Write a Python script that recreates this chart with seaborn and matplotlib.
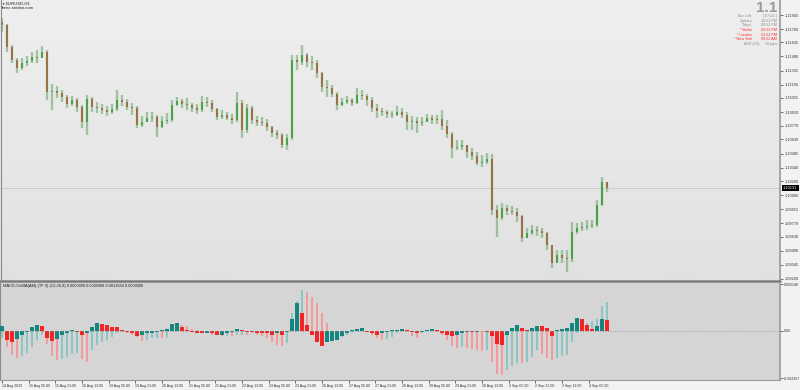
import numpy as np
import pandas as pd
import matplotlib
matplotlib.use("Agg")
import matplotlib.pyplot as plt
import matplotlib.transforms as mtransforms
from matplotlib.lines import Line2D
from matplotlib.colors import LinearSegmentedColormap
import seaborn as sns

# ---------------- data (3-hour bars, EURUSD) ----------------
first_open = 1.11833
closes = [1.11803, 1.11577, 1.11444, 1.11362, 1.11413, 1.11434, 1.11475, 1.11464, 1.11526, 1.11116,
          1.11126, 1.11106, 1.11065, 1.10993, 1.11034, 1.10962, 1.10808, 1.11044, 1.10962, 1.10952,
          1.10931, 1.10911, 1.10942, 1.11034, 1.11013, 1.10962, 1.10952, 1.10778, 1.10808, 1.10849,
          1.10860, 1.10757, 1.10819, 1.10829, 1.10983, 1.11024, 1.10993, 1.10983, 1.10952, 1.10931,
          1.11013, 1.11003, 1.10942, 1.10860, 1.10880, 1.10849, 1.10829, 1.11003, 1.10726, 1.10952,
          1.10829, 1.10808, 1.10798, 1.10757, 1.10696, 1.10675, 1.10573, 1.10644, 1.11444, 1.11423,
          1.11495, 1.11423, 1.11413, 1.11311, 1.11167, 1.11157, 1.11095, 1.10983, 1.11013, 1.11034,
          1.11003, 1.11085, 1.11075, 1.11034, 1.10952, 1.10921, 1.10911, 1.10890, 1.10880, 1.10911,
          1.10880, 1.10808, 1.10819, 1.10798, 1.10808, 1.10849, 1.10829, 1.10839, 1.10767, 1.10685,
          1.10542, 1.10552, 1.10573, 1.10501, 1.10460, 1.10388, 1.10399, 1.10429, 1.09906, 1.09824,
          1.09927, 1.09896, 1.09886, 1.09845, 1.09619, 1.09671, 1.09701, 1.09691, 1.09671, 1.09548,
          1.09363, 1.09445, 1.09414, 1.09404, 1.09681, 1.09722, 1.09732, 1.09742, 1.09753, 1.09958,
          1.10193, 1.10131]
highs = [1.11874, 1.11813, 1.11598, 1.11464, 1.11464, 1.11485, 1.11526, 1.11546, 1.11587, 1.11546,
         1.11198, 1.11177, 1.11136, 1.11085, 1.11075, 1.11054, 1.10983, 1.11085, 1.11065, 1.11013,
         1.10993, 1.10972, 1.10993, 1.11136, 1.11085, 1.11044, 1.11003, 1.10972, 1.10870, 1.10911,
         1.10911, 1.10880, 1.10870, 1.10901, 1.11034, 1.11065, 1.11044, 1.11054, 1.11003, 1.10993,
         1.11075, 1.11065, 1.11034, 1.10952, 1.10931, 1.10911, 1.10890, 1.11116, 1.11034, 1.10993,
         1.10972, 1.10870, 1.10860, 1.10839, 1.10767, 1.10726, 1.10696, 1.10685, 1.11495, 1.11495,
         1.11598, 1.11516, 1.11485, 1.11444, 1.11321, 1.11239, 1.11188, 1.11116, 1.11054, 1.11075,
         1.11054, 1.11157, 1.11136, 1.11095, 1.11065, 1.10993, 1.10952, 1.10931, 1.10921, 1.10972,
         1.10952, 1.10911, 1.10870, 1.10860, 1.10860, 1.10890, 1.10880, 1.10880, 1.10931, 1.10829,
         1.10706, 1.10624, 1.10624, 1.10573, 1.10542, 1.10501, 1.10470, 1.10491, 1.10480, 1.09958,
         1.09978, 1.09958, 1.09947, 1.09927, 1.09855, 1.09722, 1.09753, 1.09742, 1.09722, 1.09681,
         1.09548, 1.09496, 1.09496, 1.09496, 1.09783, 1.09773, 1.09783, 1.09804, 1.09804, 1.10009,
         1.10245, 1.10193]
lows = [1.11731, 1.11526, 1.11413, 1.11311, 1.11341, 1.11382, 1.11413, 1.11413, 1.11464, 1.11034,
        1.10931, 1.11054, 1.11013, 1.10952, 1.10972, 1.10911, 1.10747, 1.10675, 1.10911, 1.10901,
        1.10890, 1.10870, 1.10890, 1.10921, 1.10972, 1.10931, 1.10880, 1.10747, 1.10757, 1.10808,
        1.10808, 1.10655, 1.10747, 1.10788, 1.10808, 1.10972, 1.10952, 1.10931, 1.10911, 1.10890,
        1.10911, 1.10962, 1.10911, 1.10829, 1.10839, 1.10829, 1.10788, 1.10808, 1.10644, 1.10696,
        1.10788, 1.10767, 1.10767, 1.10716, 1.10655, 1.10634, 1.10542, 1.10521, 1.10624, 1.11341,
        1.11393, 1.11372, 1.11341, 1.11259, 1.11116, 1.11065, 1.11065, 1.10931, 1.10972, 1.10993,
        1.10972, 1.10993, 1.11034, 1.10972, 1.10911, 1.10849, 1.10870, 1.10849, 1.10849, 1.10870,
        1.10849, 1.10726, 1.10726, 1.10696, 1.10767, 1.10808, 1.10788, 1.10788, 1.10726, 1.10644,
        1.10439, 1.10521, 1.10521, 1.10439, 1.10419, 1.10368, 1.10347, 1.10378, 1.09855, 1.09630,
        1.09804, 1.09855, 1.09855, 1.09783, 1.09579, 1.09619, 1.09650, 1.09640, 1.09619, 1.09496,
        1.09312, 1.09373, 1.09363, 1.09271, 1.09373, 1.09660, 1.09691, 1.09701, 1.09722, 1.09732,
        1.09947, 1.10091]
macd = [-0.00036, -0.00076, -0.00112, -0.00126, -0.00117, -0.00103, -0.00076, -0.00045, -0.00018, -0.00063,
        -0.00117, -0.00135, -0.00130, -0.00121, -0.00108, -0.00103, -0.00130, -0.00144, -0.00090, -0.00067,
        -0.00054, -0.00045, -0.00031, -0.00013, -0.00005, -0.00009, -0.00018, -0.00031, -0.00049, -0.00045,
        -0.00036, -0.00035, -0.00036, -0.00031, 0.00022, 0.00036, 0.00027, 0.00022, 0.00009, 0.00004,
        -0.00009, -0.00013, -0.00018, -0.00022, -0.00027, -0.00026, -0.00027, -0.00022, -0.00018, -0.00019,
        -0.00013, -0.00022, -0.00027, -0.00036, -0.00054, -0.00067, -0.00072, -0.00058, 0.00081, 0.00135,
        0.00189, 0.00180, 0.00157, 0.00126, 0.00081, 0.00036, -0.00004, -0.00036, -0.00031, -0.00022,
        -0.00009, 0.00009, 0.00008, -0.00004, -0.00022, -0.00036, -0.00045, -0.00040, -0.00031, -0.00013,
        0.00004, -0.00004, -0.00027, -0.00036, -0.00013, 0.00004, 0.00009, -0.00004, -0.00022, -0.00045,
        -0.00072, -0.00081, -0.00076, -0.00080, -0.00085, -0.00090, -0.00094, -0.00090, -0.00144, -0.00202,
        -0.00207, -0.00180, -0.00162, -0.00148, -0.00149, -0.00147, -0.00121, -0.00090, -0.00108, -0.00126,
        -0.00135, -0.00126, -0.00117, -0.00112, -0.00054, -0.00013, 0.00022, 0.00036, 0.00045, 0.00054,
        0.00115, 0.00130]
osma = [0.00022, -0.00045, -0.00054, -0.00040, -0.00022, -0.00004, 0.00018, 0.00027, 0.00022, -0.00036,
        -0.00049, -0.00040, -0.00022, -0.00009, 0.00004, -0.00004, -0.00018, -0.00013, 0.00018, 0.00036,
        0.00031, 0.00027, 0.00018, 0.00017, 0.00004, -0.00004, -0.00013, -0.00027, -0.00022, -0.00013,
        -0.00009, -0.00004, 0.00004, 0.00009, 0.00031, 0.00036, 0.00018, 0.00004, -0.00004, -0.00009,
        -0.00013, -0.00009, -0.00010, -0.00022, -0.00018, -0.00009, -0.00004, 0.00009, 0.00004, -0.00004,
        -0.00005, -0.00009, -0.00010, -0.00013, -0.00018, -0.00013, -0.00018, -0.00004, 0.00054, 0.00126,
        0.00081, 0.00027, -0.00018, -0.00054, -0.00072, -0.00054, -0.00049, -0.00045, -0.00027, -0.00009,
        0.00004, 0.00009, 0.00013, -0.00004, -0.00009, -0.00018, -0.00013, -0.00004, 0.00004, 0.00005,
        0.00009, 0.00004, -0.00004, -0.00009, -0.00004, 0.00004, 0.00009, 0.00004, -0.00009, -0.00018,
        -0.00027, -0.00022, -0.00013, -0.00004, -0.00005, -0.00004, -0.00003, -0.00004, -0.00027, -0.00063,
        -0.00067, -0.00022, 0.00013, 0.00027, 0.00013, 0.00004, 0.00013, 0.00022, 0.00021, 0.00013,
        -0.00027, 0.00004, 0.00009, 0.00013, 0.00036, 0.00058, 0.00054, 0.00027, 0.00009, 0.00022,
        0.00054, 0.00050]

time_labels = ["14 Aug 2019", "15 Aug 05:00", "15 Aug 21:00", "16 Aug 13:00", "19 Aug 05:00",
               "19 Aug 21:00", "20 Aug 13:00", "21 Aug 05:00", "21 Aug 21:00", "22 Aug 13:00",
               "23 Aug 05:00", "23 Aug 21:00", "26 Aug 13:00", "27 Aug 05:00", "27 Aug 21:00",
               "28 Aug 13:00", "29 Aug 05:00", "29 Aug 21:00", "30 Aug 13:00", "2 Sep 05:00",
               "2 Sep 21:00", "3 Sep 13:00", "4 Sep 05:00"]
price_ticks = [1.11905, 1.11760, 1.11625, 1.11480, 1.11335, 1.11190, 1.11055, 1.10910, 1.10770,
               1.10630, 1.10485, 1.10340, 1.10200, 1.10060, 1.09915, 1.09770, 1.09630, 1.09490,
               1.09345, 1.09200]
macd_ticks = [0.002148, 0.0, -0.002207]
macd_tick_labels = ["0.002148", "0.00", "-0.002207"]
current_price = 1.10131
indicator_title = "MACD-OsMA(AM) (TF 0) (12,26,9) 0.0000000 0.0005008 0.0011084 0.0000000"
info_labels = ["Bar Left:", "Sydney", "Tokyo", "* Berlin", "* London", "* New York"]
info_values = ["[ 07:22 ]", "10:52 PM", "09:52 PM", "02:52 PM", "01:52 PM", "08:52 AM"]
info_red = [False, False, False, True, True, True]
atr_label, atr_value = "ATR (20):", "16 pips"

# ---------------- frame ----------------
n = len(closes)
hours = np.arange(n) * 3.0          # 3 hourly bars per candle
opens = [first_open] + closes[:-1]
tick_hours = np.arange(len(time_labels)) * 16.0

df = pd.DataFrame({"hour": hours, "open": opens, "high": highs, "low": lows,
                   "close": closes, "macd": macd, "osma": osma})
df["candle"] = np.where(df["close"] >= df["open"], "up", "down")
df["macd_dir"] = np.where(df["macd"].diff().fillna(0) >= 0, "up", "down")
df["osma_dir"] = np.where(df["osma"].diff().fillna(0) >= 0, "up", "down")

sns.set_theme(style="white")
plt.rcParams["font.family"] = ["Liberation Sans", "DejaVu Sans"]

W, H = 800, 390
fig = plt.figure(figsize=(W / 100, H / 100), dpi=100)
fig.patch.set_facecolor("#f2f2f2")

PLOT_W = 780
rect1 = [0, 1 - 280 / H, PLOT_W / W, 280 / H]
rect2 = [0, 1 - 380 / H, PLOT_W / W, 97 / H]

# gradient background of the price window
bg = fig.add_axes(rect1, zorder=0)
grad = np.linspace(0, 1, 256).reshape(-1, 1)
cmap_bg = LinearSegmentedColormap.from_list("bg", ["#efefef", "#e1e1e1"])
bg.imshow(grad, aspect="auto", cmap=cmap_bg, extent=[0, 1, 0, 1], origin="upper")
bg.set_axis_off()

ax1 = fig.add_axes(rect1, zorder=1)
ax1.patch.set_alpha(0)
ax2 = fig.add_axes(rect2, zorder=1)
ax2.set_facecolor("#d5d5d5")

XMIN, XMAX = -1.2, 466.8
FS = 2.8

# candles: wicks + bodies
ax1.vlines(df["hour"], df["low"], df["high"], color="#6fa86f", lw=1.7, alpha=0.6, zorder=2)
for kind, col in (("up", "#2f9a2f"), ("down", "#9a5a2a")):
    d = df[df["candle"] == kind]
    ax1.vlines(d["hour"], d["open"], d["close"], color=col, lw=1.1, zorder=3)

ax1.axhline(current_price, color="#c6c6c6", lw=0.6, zorder=1)
ax1.set_xlim(XMIN, XMAX)
ax1.set_ylim(1.09189, 1.12059)
ax1.set_xticks([])
ax1.yaxis.tick_right()
ax1.set_yticks(price_ticks)
ax1.set_yticklabels([f"{p:.5f}" for p in price_ticks])
ax1.tick_params(axis="y", direction="out", length=2, width=0.5, pad=1.2,
                labelsize=FS, colors="#333333", right=True, left=False)
for s in ["top", "left", "bottom"]:
    ax1.spines[s].set_visible(False)
ax1.spines["right"].set_color("#9a9a9a")
ax1.spines["right"].set_linewidth(1.2)

# current price tag
trans = mtransforms.blended_transform_factory(ax1.transAxes, ax1.transData)
ax1.text(1.004, current_price, f"{current_price:.5f}", transform=trans, ha="left", va="center",
         fontsize=FS, color="white", clip_on=False, zorder=6,
         bbox=dict(boxstyle="square,pad=0.35", fc="black", ec="none"))

# MACD / OsMA histograms via seaborn
sns.barplot(data=df, x="hour", y="macd", hue="macd_dir", native_scale=True, dodge=False,
            palette={"up": "#8cc6c4", "down": "#f39a9a"}, width=0.5, saturation=1,
            errorbar=None, legend=False, ax=ax2, zorder=2)
sns.barplot(data=df, x="hour", y="osma", hue="osma_dir", native_scale=True, dodge=False,
            palette={"up": "#14867f", "down": "#f22424"}, width=0.9, saturation=1,
            errorbar=None, legend=False, ax=ax2, zorder=3)
for p in ax2.patches:
    p.set_edgecolor("none")
ax2.axhline(0, color="#8a8a8a", lw=0.6, ls=(0, (1, 2)), zorder=4)
ax2.set_xlim(XMIN, XMAX)
ax2.set_ylim(-0.00228, 0.00220)
ax2.set_xlabel("")
ax2.set_ylabel("")
ax2.set_xticks(tick_hours)
ax2.set_xticklabels(time_labels, ha="left")
ax2.tick_params(axis="x", direction="out", length=2, width=0.5, pad=1.0,
                labelsize=2.6, colors="#333333", bottom=True)
ax2.yaxis.tick_right()
ax2.set_yticks(macd_ticks)
ax2.set_yticklabels(macd_tick_labels)
ax2.tick_params(axis="y", direction="out", length=2, width=0.5, pad=1.0,
                labelsize=2.6, colors="#333333", right=True, left=False)
ax2.spines["top"].set_visible(False)
ax2.spines["right"].set_color("#9a9a9a")
ax2.spines["right"].set_linewidth(1.2)
ax2.spines["left"].set_color("#8a8a8a")
ax2.spines["left"].set_linewidth(0.8)
ax2.spines["bottom"].set_color("#9a9a9a")
ax2.spines["bottom"].set_linewidth(0.8)
ax2.text(0.004, 0.985, indicator_title, transform=ax2.transAxes, ha="left", va="top",
         fontsize=2.9, color="#222222")

# separator between windows and left border
fig.add_artist(Line2D([0, PLOT_W / W], [1 - 281 / H] * 2, color="#7a7a7a", lw=1.8))
fig.add_artist(Line2D([0.8 / W] * 2, [1 - 280 / H, 1], color="#8a8a8a", lw=0.8))

# top-left symbol caption
fig.text(1.5 / W, 1 - 4 / H, "\u25bc", fontsize=2.4, color="#222222", va="center", ha="left")
fig.text(6 / W, 1 - 4 / H, "EURUSD,H1", fontsize=3.1, color="#222222", va="center", ha="left")
fig.text(1.5 / W, 1 - 8 / H, "forex-station.com", fontsize=3.1, color="#222222", va="center", ha="left")

# top-right info block
fig.text(777 / W, 1 - 8.5 / H, "1.1", fontsize=11, weight="bold", color="#9a9a9a",
         ha="right", va="center")
for k, (lab, val, red) in enumerate(zip(info_labels, info_values, info_red)):
    yy = 1 - (16 + 4.7 * k) / H
    col = "#ff2a2a" if red else "#8a8a8a"
    fig.text(752 / W, yy, lab, fontsize=2.7, color=col, ha="right", va="center")
    fig.text(777 / W, yy, val, fontsize=2.7, color=col, ha="right", va="center")
fig.text(760 / W, 1 - 44 / H, atr_label, fontsize=2.7, color="#8a8a8a", ha="right", va="center")
fig.text(777 / W, 1 - 44 / H, atr_value, fontsize=2.7, color="#8a8a8a", ha="right", va="center")

fig.savefig("out.png", dpi=100, facecolor=fig.get_facecolor())
